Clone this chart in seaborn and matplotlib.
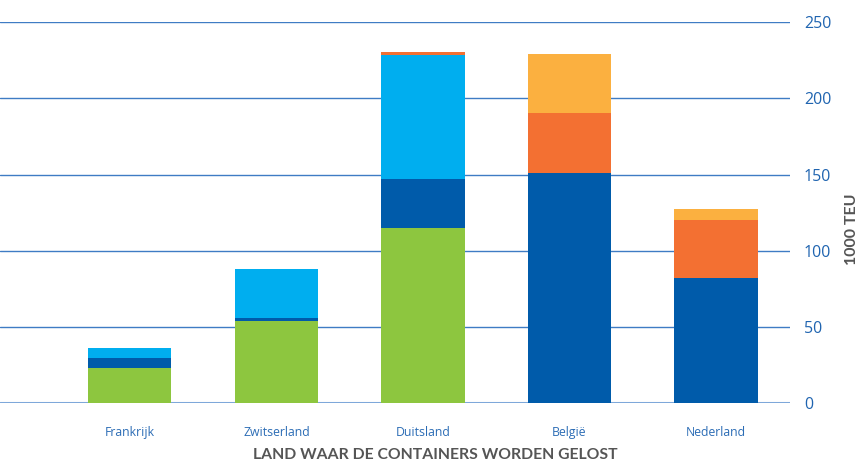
import matplotlib
matplotlib.use("Agg")
import matplotlib.pyplot as plt
import seaborn as sns
import numpy as np
import pandas as pd

# Countries where the containers are unloaded
landen = ["Frankrijk", "Zwitserland", "Duitsland", "België", "Nederland"]

# Stacked segments (1000 TEU), bottom to top
groen = [23.3, 54.1, 115.0, 0.0, 0.0]
donkerblauw = [6.6, 2.0, 32.0, 151.0, 82.3]
lichtblauw = [6.1, 32.0, 81.2, 0.0, 0.0]
oranje = [0.0, 0.0, 2.0, 39.3, 38.0]
geel = [0.0, 0.0, 0.0, 39.0, 6.8]

segmenten = [groen, donkerblauw, lichtblauw, oranje, geel]
kleuren = ["#8DC63F", "#005BAA", "#00AEEF", "#F37032", "#FBB040"]

y_ticks = [0, 50, 100, 150, 200, 250]

sns.set_theme(style="white")
plt.rcParams["font.family"] = ["Open Sans", "DejaVu Sans"]

fig = plt.figure(figsize=(8.6, 4.62), dpi=100)
ax = fig.add_axes([0.0, 0.127, 0.9186, 0.8253])

# Cumulative heights, drawn from the tallest down so each stack layer shows
cum = np.cumsum(np.array(segmenten), axis=0)
for i in range(len(segmenten) - 1, -1, -1):
    df = pd.DataFrame({"land": landen, "waarde": cum[i]})
    sns.barplot(data=df, x="land", y="waarde", order=landen, color=kleuren[i],
                saturation=1, width=0.567, linewidth=0, ax=ax, zorder=3)

ax.set_ylim(0, 250)
ax.set_xlim(-0.887, 4.505)
ax.set_yticks(y_ticks)
ax.yaxis.tick_right()
ax.tick_params(axis="y", length=0, pad=10, labelsize=11.5, labelcolor="#1F64B0")
ax.tick_params(axis="x", length=0, pad=16, labelsize=8.8, labelcolor="#2B6CB5")

for s in ax.spines.values():
    s.set_visible(False)

# Horizontal grid lines
for t in y_ticks[1:]:
    ax.axhline(t, color="#3F7CC4", linewidth=1.0, zorder=1)
ax.axhline(0, color="#7EA8DA", linewidth=2.2, zorder=2)

ax.set_xlabel("LAND WAAR DE CONTAINERS WORDEN GELOST", fontsize=11.3,
              fontweight="bold", color="#555555", family=["Lato", "DejaVu Sans"])
ax.xaxis.set_label_coords(0.551, -0.117)
ax.set_ylabel("")

fig.text(0.991, 0.504, "1000 TEU", rotation=90, ha="center", va="center",
         fontsize=11.5, fontweight="bold", color="#555555",
         family=["Lato", "DejaVu Sans"])

fig.savefig("out.png", dpi=100)
